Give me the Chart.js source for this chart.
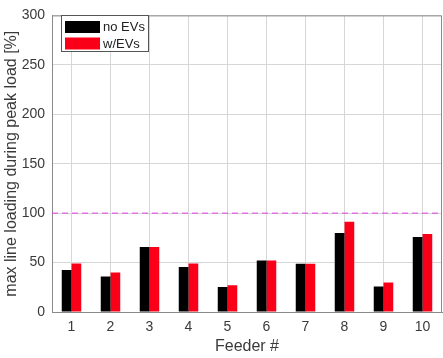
<!DOCTYPE html>
<html>
<head>
<meta charset="utf-8">
<script src="https://cdn.jsdelivr.net/npm/chart.js@4/dist/chart.umd.min.js"></script>
<style>
  html, body { margin: 0; padding: 0; background: #fff; }
  #wrap { width: 443px; height: 358px; }
</style>
</head>
<body>
<div id="wrap"><canvas id="loadChart"></canvas></div>
<script>
var feeders = ['1', '2', '3', '4', '5', '6', '7', '8', '9', '10'];
var noEVs = [42.5, 36, 65.7, 45.5, 25.2, 52, 48.7, 79.8, 25.9, 75.9];
var withEVs = [49, 40, 65.7, 49, 27, 52, 48.7, 91.2, 29.8, 78.8];
var yTicks = [0, 50, 100, 150, 200, 250, 300];
var peakLimit = 100;

// box, dashed limit line and legend inside the axes, like the matlab figure
var extras = {
    id: 'extras',
    afterDatasetsDraw: function (chart) {
        var ctx = chart.ctx;
        var a = chart.chartArea;
        var y = chart.scales.y.getPixelForValue(peakLimit);
        ctx.save();
        ctx.strokeStyle = '#e23ee6';
        ctx.lineWidth = 1;
        ctx.setLineDash([6, 4]);
        ctx.beginPath();
        ctx.moveTo(a.left, y);
        ctx.lineTo(a.right, y);
        ctx.stroke();
        ctx.setLineDash([]);

        ctx.strokeStyle = '#8a8a8a';
        ctx.beginPath();
        ctx.moveTo(a.left, a.top + 0.5);
        ctx.lineTo(a.right - 0.5, a.top + 0.5);
        ctx.lineTo(a.right - 0.5, a.bottom);
        ctx.stroke();

        // legend
        ctx.fillStyle = '#fff';
        ctx.fillRect(61, 15, 88, 37);
        ctx.strokeStyle = '#555';
        ctx.strokeRect(61.5, 15.5, 87, 36);
        ctx.font = '13px "Liberation Sans", Arial, sans-serif';
        ctx.textBaseline = 'middle';
        chart.data.datasets.forEach(function (ds, i) {
            var cy = 27 + i * 16.5;
            ctx.fillStyle = ds.backgroundColor;
            ctx.fillRect(65, cy - 6, 35, 12);
            ctx.fillStyle = '#222';
            ctx.fillText(ds.label, 103, cy + 0.5);
        });
        ctx.restore();
    }
};

var ctx = document.getElementById('loadChart');
var chart = new Chart(ctx, {
    type: 'bar',
    data: {
        labels: feeders,
        datasets: [{
            label: 'no EVs',
            data: noEVs,
            backgroundColor: '#000000',
            borderWidth: 0,
        }, {
            label: 'w/EVs',
            data: withEVs,
            backgroundColor: '#fa0018',
            borderWidth: 0,
        }]
    },
    options: {
        responsive: true,
        maintainAspectRatio: false,
        animation: false,
        layout: { padding: { top: 6, right: 1, left: 0, bottom: 0 } },
        datasets: {
            bar: { categoryPercentage: 0.5, barPercentage: 1.0 }
        },
        plugins: {
            legend: { display: false },
            tooltip: { enabled: false },
        },
        scales: {
            x: {
                grid: { offset: false, color: '#d6d6d6', drawTicks: false },
                border: { color: '#8a8a8a' },
                ticks: {
                    padding: 7,
                    color: '#3a3a3a',
                    font: { family: '"Liberation Sans", Arial, sans-serif', size: 14 },
                },
                title: {
                    display: true,
                    text: 'Feeder #',
                    color: '#3a3a3a',
                    padding: { top: 0, bottom: 2 },
                    font: { family: '"Liberation Sans", Arial, sans-serif', size: 16 },
                },
                afterFit: function (s) { s.height = 46; },
            },
            y: {
                min: 0,
                max: 300,
                afterBuildTicks: function (s) {
                    s.ticks = yTicks.map(function (v) { return { value: v }; });
                },
                grid: { color: '#d6d6d6', drawTicks: false },
                border: { color: '#8a8a8a' },
                ticks: {
                    padding: 7,
                    color: '#3a3a3a',
                    font: { family: '"Liberation Sans", Arial, sans-serif', size: 14 },
                },
                title: {
                    display: true,
                    text: 'max line loading during peak load [%]',
                    color: '#3a3a3a',
                    padding: { top: 2, bottom: 0 },
                    font: { family: '"Liberation Sans", Arial, sans-serif', size: 16 },
                },
                afterFit: function (s) { s.width = 52; },
            }
        }
    },
    plugins: [extras]
});
</script>
</body>
</html>
